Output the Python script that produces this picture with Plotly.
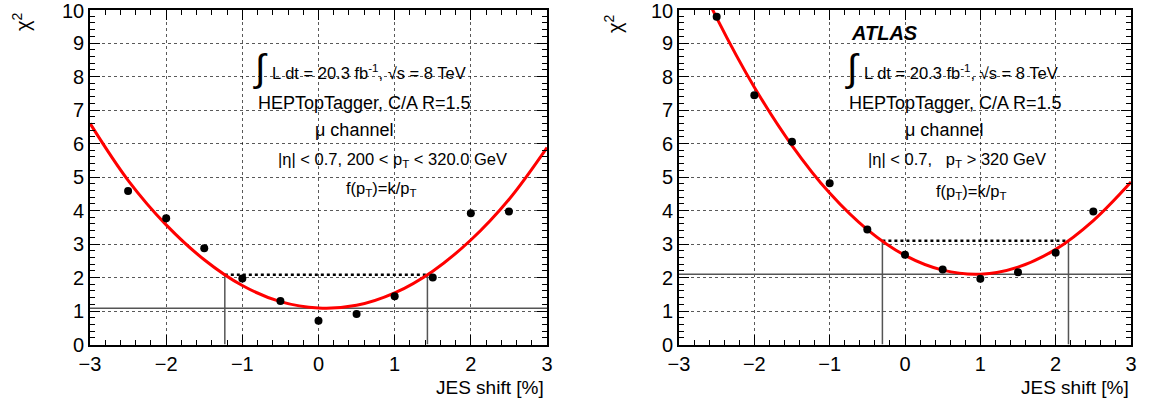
import plotly.graph_objects as go

W, H = 1149, 409

# ---------------- data ----------------
jes_shift = [-2.5, -2.0, -1.5, -1.0, -0.5, 0.0, 0.5, 1.0, 1.5, 2.0, 2.5]
chi2_left = [4.58, 3.77, 2.87, 1.97, 1.30, 0.71, 0.91, 1.44, 2.00, 3.92, 3.97]
chi2_right = [9.78, 7.44, 6.05, 4.81, 3.43, 2.68, 2.24, 1.96, 2.16, 2.74, 3.97]

# fitted curve
fit_x = [-3.0, -2.5, -2.0, -1.5, -1.0, -0.5, 0.0, 0.5, 1.0, 1.5, 2.0, 2.5, 3.0]
fit_left = [6.60, 4.90, 3.57, 2.53, 1.76, 1.28, 1.09, 1.17, 1.54, 2.19, 3.12, 4.33, 5.88]
fit_right = [12.14, 9.75, 7.68, 5.94, 4.52, 3.43, 2.66, 2.22, 2.10, 2.31, 2.84, 3.70, 4.85]

# minimum and +1 interval
left_min, left_lo, left_hi = 1.08, -1.23, 1.43
right_min, right_lo, right_hi = 2.10, -0.30, 2.17

x_ticks = [-3, -2, -1, 0, 1, 2, 3]
y_ticks = list(range(0, 11))
y_ticktext = [str(v) for v in y_ticks]

# ---------------- figure ----------------
fig = go.Figure()

def px(x):
    return x / W

def py(y):
    return 1 - y / H

panels = [
    dict(xa="x", ya="y", pts=chi2_left, fit=fit_left, mn=left_min, lo=left_lo, hi=left_hi),
    dict(xa="x2", ya="y2", pts=chi2_right, fit=fit_right, mn=right_min, lo=right_lo, hi=right_hi),
]

for p in panels:
    xa, ya = p["xa"], p["ya"]
    fig.add_trace(go.Scatter(x=[-3, 3], y=[p["mn"], p["mn"]], mode="lines",
                             line=dict(color="#555555", width=1.5), xaxis=xa, yaxis=ya,
                             showlegend=False, hoverinfo="skip"))
    for xv in (p["lo"], p["hi"]):
        fig.add_trace(go.Scatter(x=[xv, xv], y=[0, p["mn"] + 1], mode="lines",
                                 line=dict(color="#555555", width=1.5), xaxis=xa, yaxis=ya,
                                 showlegend=False, hoverinfo="skip"))
    fig.add_trace(go.Scatter(x=[p["lo"], p["hi"]], y=[p["mn"] + 1, p["mn"] + 1], mode="lines",
                             line=dict(color="black", width=2.5, dash="dot"), xaxis=xa, yaxis=ya,
                             showlegend=False, hoverinfo="skip"))
    fig.add_trace(go.Scatter(x=fit_x, y=p["fit"], mode="lines", line_shape="spline",
                             line=dict(color="#ff0000", width=3), xaxis=xa, yaxis=ya,
                             showlegend=False, hoverinfo="skip"))
    fig.add_trace(go.Scatter(x=jes_shift, y=p["pts"], mode="markers",
                             marker=dict(color="black", size=8), xaxis=xa, yaxis=ya,
                             showlegend=False, cliponaxis=False))

FONT = "Liberation Sans, Arial, Helvetica, sans-serif"

axis_common = dict(
    showline=True, linecolor="black", linewidth=2, mirror="allticks",
    ticks="inside", ticklen=10, tickwidth=1, tickcolor="black",
    showgrid=True, gridcolor="rgba(0,0,0,0.65)", griddash="dot", gridwidth=1,
    zeroline=False, automargin=False,
    tickfont=dict(family=FONT, size=20, color="black"),
)
minor = dict(dtick=0.2, ticklen=5, tickcolor="black", ticks="inside", showgrid=False)

xdom_l = [px(90), px(547)]
xdom_r = [px(679), px(1131)]
ydom = [py(344.5), py(9.5)]

fig.update_layout(
    width=W, height=H, autosize=False,
    margin=dict(l=0, r=0, t=0, b=0, pad=0),
    paper_bgcolor="white", plot_bgcolor="white",
    font=dict(family=FONT, color="black"),
    xaxis=dict(domain=xdom_l, range=[-3, 3], tickvals=x_ticks, anchor="y", minor=minor, **axis_common),
    yaxis=dict(domain=ydom, range=[0, 10], tickvals=y_ticks, ticktext=y_ticktext, anchor="x", minor=minor, **axis_common),
    xaxis2=dict(domain=xdom_r, range=[-3, 3], tickvals=x_ticks, anchor="y2", minor=minor, **axis_common),
    yaxis2=dict(domain=ydom, range=[0, 10], tickvals=y_ticks, ticktext=y_ticktext, anchor="x2", minor=minor, **axis_common),
)

ann = []

def txt(x, y, s, size=18, xanchor="left", yanchor="middle", **kw):
    ann.append(dict(x=px(x), y=py(y), xref="paper", yref="paper", text=s, showarrow=False,
                    xanchor=xanchor, yanchor=yanchor,
                    font=dict(family=FONT, size=size, color="black"), **kw))

# top tick label "10" (plotly hides it at the very edge of the page), placed on the y scale
for xa_name, ya_name, xr in (("x", "y", -3), ("x2", "y2", -3)):
    ann.append(dict(x=xr, y=y_ticks[-1], xref=xa_name, yref=ya_name, text=y_ticktext[-1],
                    showarrow=False, xanchor="right", yanchor="top", xshift=-5, yshift=10,
                    borderpad=0, font=dict(family=FONT, size=20, color="black")))

# axis titles
for xr in (546, 1131):
    txt(xr, 387, "JES shift [%]", size=19, xanchor="right")
txt(21, 22, "χ<sup>2</sup>", size=20, xanchor="center", textangle=-90)
txt(613, 24, "χ<sup>2</sup>", size=20, xanchor="center", textangle=-90)

# left panel text
txt(251, 69, "∫", size=38)
txt(270, 72, "L dt = 20.3 fb<sup>-1</sup>, √s = 8 TeV", size=16.5)
txt(256, 103, "HEPTopTagger, C/A R=1.5")
txt(313, 130, "μ channel")
txt(276, 160, "|η| < 0.7, 200 < p<sub>T</sub> < 320.0 GeV", size=16.5)
txt(344, 189, "f(p<sub>T</sub>)=k/p<sub>T</sub>", size=16.5)

# right panel text
ann.append(dict(x=px(849), y=py(33), xref="paper", yref="paper",
                text="<b><i>ATLAS</i></b>", showarrow=False, xanchor="left", yanchor="middle",
                font=dict(family=FONT, size=20, color="black")))
txt(843, 69, "∫", size=38)
txt(862, 72, "L dt = 20.3 fb<sup>-1</sup>, √s = 8 TeV", size=16.5)
txt(847, 103, "HEPTopTagger, C/A R=1.5")
txt(903, 130, "μ channel")
txt(866, 160, "|η| < 0.7,   p<sub>T</sub> > 320 GeV", size=16.5)
txt(934, 192, "f(p<sub>T</sub>)=k/p<sub>T</sub>", size=16.5)

fig.update_layout(annotations=ann)

fig.write_html("out.html")
